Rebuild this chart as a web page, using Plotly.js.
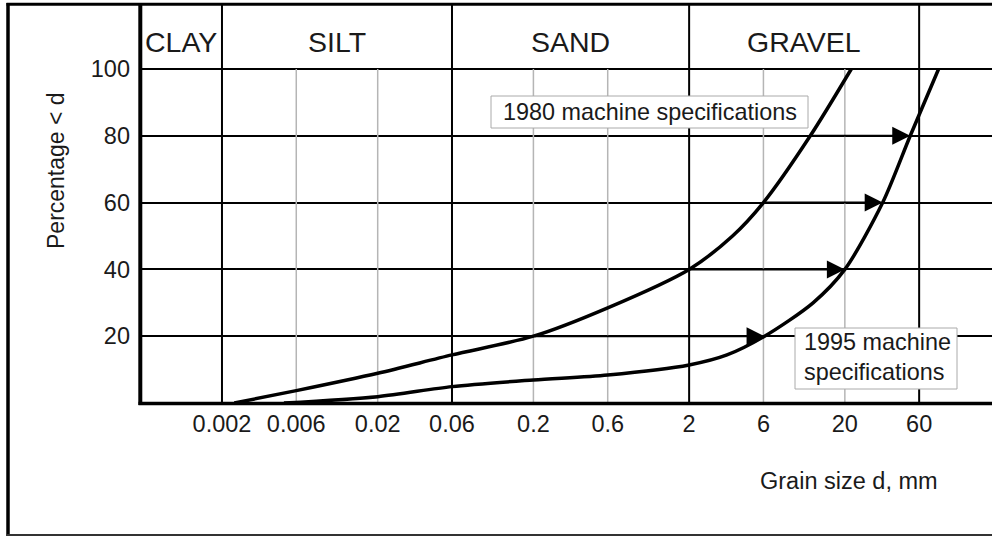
<!DOCTYPE html>
<html>
<head>
<meta charset="utf-8">
<script src="https://cdn.plot.ly/plotly-3.0.1.min.js"></script>
<style>html,body{margin:0;padding:0;background:#fff;}#chart{width:992px;height:536px;}</style>
</head>
<body>
<div id="chart"></div>
<script>
// ---- data ----
const sizeTicks = [0.002, 0.006, 0.02, 0.06, 0.2, 0.6, 2, 6, 20, 60];
const sizeTickText = ['0.002', '0.006', '0.02', '0.06', '0.2', '0.6', '2', '6', '20', '60'];
const pctTicks = [20, 40, 60, 80, 100];
const classBounds = [0.002, 0.06, 2, 60];
const minorLines = [0.006, 0.02, 0.2, 0.6, 6, 20];
const classNames = ['CLAY', 'SILT', 'SAND', 'GRAVEL'];
const spec1980Size = [0.0024, 0.006, 0.02, 0.06, 0.2, 0.6, 2, 3.8, 6, 12, 22];
const spec1980Pct  = [0, 3.7, 8.9, 14.4, 20, 28.5, 40, 50, 60, 80, 100];
const spec1995Size = [0.005, 0.02, 0.06, 0.2, 0.6, 2, 3.5, 6.1, 12.5, 20, 35, 52.6, 80];
const spec1995Pct  = [0, 1.9, 4.9, 6.9, 8.4, 11.4, 14.4, 20, 30, 40, 60, 80, 100];
const arrowLevels = [20, 40, 60, 80];
const arrowFrom = [0.2, 2, 6, 12];
const arrowTo = [6.1, 20, 35, 52.6];
const label1980 = '1980 machine specifications';
const label1995 = ['1995 machine', 'specifications'];
const xTitle = 'Grain size d, mm';
const yTitle = 'Percentage < d';

// ---- layout constants ----
const W = 992, H = 536;
const L = 141, R = 0, T = 4, B = 133;
const pw = W - L - R, ph = H - T - B;
const xRange = [-3.219, 2.246];
const yTop = 119.46;
const px2x = p => (p - L) / pw;
const px2y = p => (H - B - p) / ph;
const FONT = 'Liberation Sans, Arial, sans-serif';
const TXT = '#1a1a1a';

function segs(vals, y0, y1) {
  const xs = [], ys = [];
  vals.forEach(v => { xs.push(v, v, null); ys.push(y0, y1, null); });
  return {xs, ys};
}
const g1 = segs(minorLines, 0, 100);
const g2 = segs(classBounds, 0, yTop);

const traces = [
  {x: g1.xs, y: g1.ys, mode: 'lines', line: {color: '#b5b5b5', width: 1.5}, hoverinfo: 'skip', showlegend: false},
  {x: g2.xs, y: g2.ys, mode: 'lines', line: {color: '#000', width: 2}, hoverinfo: 'skip', showlegend: false},
  {x: spec1980Size, y: spec1980Pct, mode: 'lines', line: {color: '#000', width: 3.5, shape: 'spline', smoothing: 0.8}, showlegend: false, name: '1980'},
  {x: spec1995Size, y: spec1995Pct, mode: 'lines', line: {color: '#000', width: 3.5, shape: 'spline', smoothing: 0.8}, showlegend: false, name: '1995'}
];

const annotations = [];
// class header labels
const bl = [xRange[0]].concat(classBounds.map(Math.log10));
classNames.forEach((n, i) => {
  annotations.push({xref: 'x', yref: 'paper', x: (bl[i] + bl[i + 1]) / 2, y: px2y(41.5),
    text: n, showarrow: false, font: {family: FONT, size: 28.5, color: TXT}, xanchor: 'center', yanchor: 'middle'});
});
// arrows
arrowLevels.forEach((lv, i) => {
  annotations.push({xref: 'x', yref: 'y', axref: 'x', ayref: 'y',
    x: Math.log10(arrowTo[i]), y: lv, ax: Math.log10(arrowFrom[i]), ay: lv,
    text: '', showarrow: true, arrowhead: 2, arrowsize: 1.8, arrowwidth: 2, arrowcolor: '#000', standoff: 0});
});
// 1980 label
annotations.push({xref: 'paper', yref: 'paper', x: px2x(649.5), y: px2y(112), text: label1980, showarrow: false,
  font: {family: FONT, size: 23.4, color: TXT}, xanchor: 'center', yanchor: 'middle'});
// 1995 label
annotations.push({xref: 'paper', yref: 'paper', x: px2x(802), y: px2y(357), text: label1995.join('<br>'), showarrow: false,
  align: 'left', font: {family: FONT, size: 23.4, color: TXT}, xanchor: 'left', yanchor: 'middle'});
// axis titles
annotations.push({xref: 'paper', yref: 'paper', x: px2x(849), y: px2y(481), text: xTitle, showarrow: false,
  font: {family: FONT, size: 23.5, color: TXT}, xanchor: 'center', yanchor: 'middle'});
annotations.push({xref: 'paper', yref: 'paper', x: px2x(56), y: px2y(171), text: yTitle, showarrow: false, textangle: -90,
  font: {family: FONT, size: 23, color: TXT}, xanchor: 'center', yanchor: 'middle'});

const shapes = [
  // label boxes
  {type: 'rect', xref: 'paper', yref: 'paper', x0: px2x(491), x1: px2x(808), y0: px2y(128), y1: px2y(96),
    fillcolor: '#fff', line: {color: '#aaa', width: 1}, layer: 'above'},
  {type: 'rect', xref: 'paper', yref: 'paper', x0: px2x(795), x1: px2x(957), y0: px2y(389), y1: px2y(328),
    fillcolor: '#fff', line: {color: '#aaa', width: 1}, layer: 'above'},
  // axis lines
  {type: 'line', xref: 'paper', yref: 'paper', x0: px2x(140.3), x1: px2x(140.3), y0: px2y(405), y1: 1, line: {color: '#000', width: 4}},
  {type: 'line', xref: 'paper', yref: 'paper', x0: px2x(138.5), x1: 1, y0: px2y(403.5), y1: px2y(403.5), line: {color: '#000', width: 3.7}},
  // outer frame
  {type: 'line', xref: 'paper', yref: 'paper', x0: px2x(6.5), x1: 1, y0: px2y(4.3), y1: px2y(4.3), line: {color: '#000', width: 3}},
  {type: 'line', xref: 'paper', yref: 'paper', x0: px2x(8), x1: px2x(8), y0: px2y(536), y1: px2y(3), line: {color: '#000', width: 3.5}},
  {type: 'line', xref: 'paper', yref: 'paper', x0: px2x(6.5), x1: 1, y0: px2y(535), y1: px2y(535), line: {color: '#333', width: 2}}
];

const layout = {
  width: W, height: H,
  margin: {l: L, r: R, t: T, b: B, pad: 0},
  paper_bgcolor: '#fff', plot_bgcolor: '#fff',
  showlegend: false,
  font: {family: FONT, color: TXT},
  xaxis: {type: 'log', range: xRange, tickvals: sizeTicks, ticktext: sizeTickText, showgrid: false, zeroline: false,
    showline: false, ticks: '', tickfont: {family: FONT, size: 23.5, color: TXT}, ticklabelstandoff: 4, fixedrange: true},
  yaxis: {range: [0, yTop], tickvals: pctTicks, showgrid: true, gridcolor: '#000', gridwidth: 2, zeroline: false,
    showline: false, ticks: '', tickfont: {family: FONT, size: 23.5, color: TXT}, ticklabelstandoff: 10, fixedrange: true},
  annotations: annotations,
  shapes: shapes
};

Plotly.newPlot('chart', traces, layout, {displayModeBar: false, staticPlot: true});
</script>
</body>
</html>
